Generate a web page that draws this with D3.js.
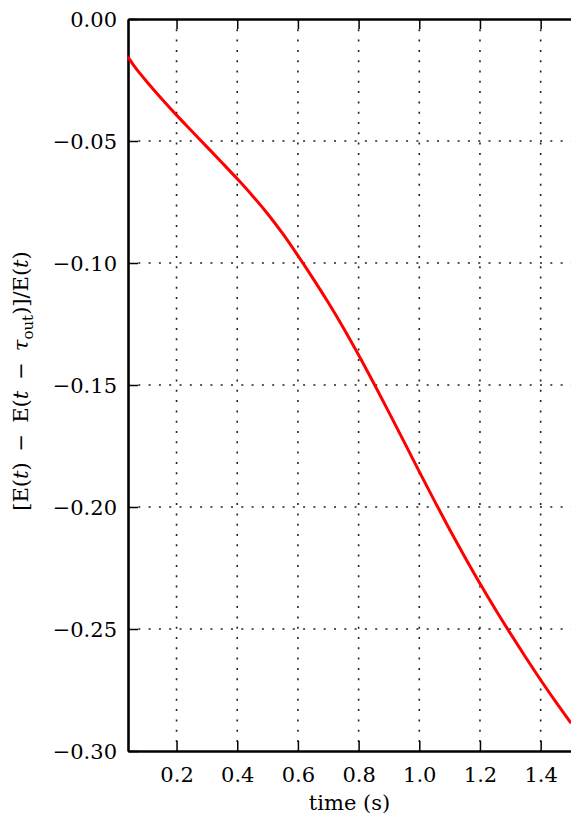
<!DOCTYPE html>
<html>
<head>
<meta charset="utf-8">
<script src="https://cdn.jsdelivr.net/npm/d3@7"></script>
<style>
  body { margin: 0; background: #fff; }
</style>
</head>
<body>
<div class="chart"></div>
<script>
// time in seconds and relative energy change
const times = [0.04, 0.06, 0.08, 0.10, 0.15, 0.20, 0.25, 0.30, 0.35, 0.40, 0.45, 0.50, 0.55, 0.60, 0.65, 0.70,
               0.75, 0.80, 0.85, 0.90, 0.95, 1.00, 1.05, 1.10, 1.15, 1.20, 1.25, 1.30, 1.35, 1.40, 1.45, 1.50]
const dE = [-0.0155, -0.0192, -0.0224, -0.0254, -0.0326, -0.0394, -0.0459, -0.0524, -0.0589, -0.0655, -0.0724,
            -0.0798, -0.0880, -0.0970, -0.1064, -0.1162, -0.1266, -0.1377, -0.1493, -0.1612, -0.1733, -0.1855,
            -0.1975, -0.2092, -0.2205, -0.2314, -0.2418, -0.2518, -0.2615, -0.2709, -0.2799, -0.2886]
const xTicks = [0.2, 0.4, 0.6, 0.8, 1.0, 1.2, 1.4]
const yTicks = [0, -0.05, -0.10, -0.15, -0.20, -0.25, -0.30]

let W = 571, H = 819
let m = {top: 19, right: 0, bottom: 68, left: 128}
const FONT = '"DejaVu Serif", "Liberation Serif", serif'

var svg = d3.select(".chart").append("svg")
    .attr("width", W)
    .attr("height", H)

var x = d3.scaleLinear().domain([0.04, 1.5]).range([m.left, W - m.right])
var y = d3.scaleLinear().domain([-0.30, 0]).range([H - m.bottom, m.top])

// dotted grid
svg.append("g").selectAll("line")
    .data(xTicks).enter().append("line")
    .attr("x1", d => x(d)).attr("x2", d => x(d))
    .attr("y1", y(0)).attr("y2", y(-0.30))
    .attr("stroke", "#222").attr("stroke-width", 1.6)
    .attr("stroke-dasharray", "2,8.3")
svg.append("g").selectAll("line")
    .data(yTicks.slice(1, -1)).enter().append("line")
    .attr("y1", d => y(d)).attr("y2", d => y(d))
    .attr("x1", x(0.04)).attr("x2", x(1.5))
    .attr("stroke", "#222").attr("stroke-width", 1.6)
    .attr("stroke-dasharray", "2,8.3")

// axes, ticks pointing inward
var xAxis = svg.append("g")
    .attr("transform", "translate(0," + y(-0.30) + ")")
    .call(d3.axisBottom(x).tickValues(xTicks).tickFormat(d3.format(".1f")).tickSizeInner(-10).tickSizeOuter(0).tickPadding(16))
var yAxis = svg.append("g")
    .attr("transform", "translate(" + x(0.04) + ",0)")
    .call(d3.axisLeft(y).tickValues(yTicks).tickFormat(d3.format(".2f")).tickSizeInner(-10).tickSizeOuter(0).tickPadding(11))
svg.append("g")
    .attr("transform", "translate(0," + y(0) + ")")
    .call(d3.axisTop(x).tickValues(xTicks).tickFormat("").tickSizeInner(-10).tickSizeOuter(0))

svg.selectAll(".domain").attr("stroke", "#000").attr("stroke-width", 2.6)
svg.selectAll(".tick line").attr("stroke", "#000").attr("stroke-width", 1.5)
svg.selectAll(".tick text")
    .style("font-family", FONT)
    .style("font-size", "21px")
    .attr("fill", "#000")
yAxis.selectAll(".tick text").attr("dy", "0.36em")

// the curve
svg.append("path")
    .datum(times.map((t, i) => [t, dE[i]]))
    .attr("fill", "none")
    .attr("stroke", "#ff0000")
    .attr("stroke-width", 3)
    .attr("d", d3.line().x(d => x(d[0])).y(d => y(d[1])).curve(d3.curveMonotoneX))

// axis titles
svg.append("text")
    .attr("x", (x(0.04) + x(1.5)) / 2)
    .attr("y", 810)
    .attr("text-anchor", "middle")
    .style("font-family", FONT)
    .style("font-size", "21px")
    .text("time (s)")

// y label pieces: [text, italic, extra gap before]
var yl = svg.append("text")
    .attr("transform", "translate(28," + ((y(0) + y(-0.30)) / 2 - 4) + ") rotate(-90)")
    .attr("text-anchor", "middle")
    .style("font-family", FONT)
    .style("font-size", "21px")
var parts = [["[E(", false, 0], ["t", true, 0], [")", false, 0], ["−", false, 11], ["E(", false, 11],
             ["t", true, 0], ["−", false, 11], ["τ", true, 11]]
parts.forEach(p => {
    yl.append("tspan").attr("dx", p[2]).attr("font-style", p[1] ? "italic" : null).text(p[0])
})
yl.append("tspan").attr("dy", 5).style("font-size", "15px").text("out")
yl.append("tspan").attr("dy", -5).text(")]/E(")
yl.append("tspan").attr("font-style", "italic").text("t")
yl.append("tspan").text(")")
</script>
</body>
</html>
